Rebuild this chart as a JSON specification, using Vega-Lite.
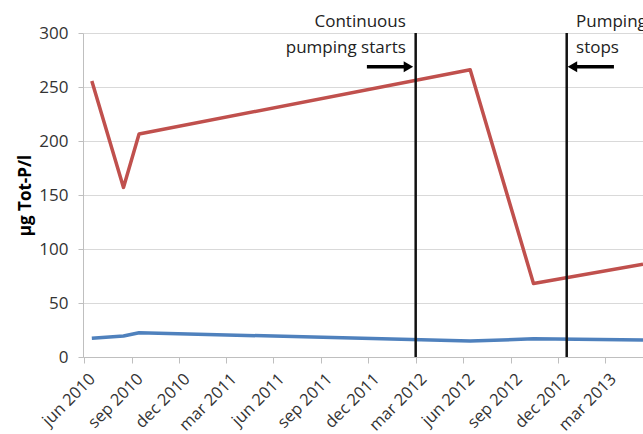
{
  "$schema": "https://vega.github.io/schema/vega-lite/v6.json",
  "width": 560,
  "height": 324,
  "autosize": {"type": "none"},
  "padding": {"left": 83, "top": 33, "right": 0, "bottom": 77},
  "background": "white",
  "config": {"view": {"stroke": null}, "font": "Open Sans"},
  "datasets": {
    "series": [
      {"date": "2010-06-16", "value": 255.5, "series": "Series 1"},
      {"date": "2010-08-16", "value": 157, "series": "Series 1"},
      {"date": "2010-09-15", "value": 206.5, "series": "Series 1"},
      {"date": "2012-06-14", "value": 266, "series": "Series 1"},
      {"date": "2012-10-14", "value": 68, "series": "Series 1"},
      {"date": "2013-05-13", "value": 86, "series": "Series 1"},
      {"date": "2010-06-16", "value": 17.3, "series": "Series 2"},
      {"date": "2010-08-16", "value": 19.4, "series": "Series 2"},
      {"date": "2010-09-15", "value": 22.5, "series": "Series 2"},
      {"date": "2012-06-14", "value": 14.8, "series": "Series 2"},
      {"date": "2012-10-14", "value": 16.8, "series": "Series 2"},
      {"date": "2013-05-13", "value": 15.7, "series": "Series 2"}
    ],
    "events": [
      {"date": "2012-03-01", "event": "Continuous pumping starts"},
      {"date": "2012-12-17", "event": "Pumping stops"}
    ],
    "arrows": [
      {"date": "2011-11-28", "end": "2012-02-12", "value": 268.8, "dir": "right"},
      {"date": "2013-01-01", "end": "2013-03-18", "value": 268.8, "dir": "left"}
    ],
    "heads": [
      {"date": "2012-02-16", "value": 268.8, "dir": "right"},
      {"date": "2012-12-28", "value": 268.8, "dir": "left"}
    ],
    "labels": [
      {"date": "2012-02-11", "value": 305.8, "text": "Continuous", "side": "before"},
      {"date": "2012-02-11", "value": 281.8, "text": "pumping starts", "side": "before"},
      {"date": "2013-01-04", "value": 305.8, "text": "Pumping", "side": "after"},
      {"date": "2013-01-04", "value": 281.8, "text": "stops", "side": "after"}
    ]
  },
  "layer": [
    {
      "data": {"name": "series"},
      "mark": {"type": "line", "strokeWidth": 3.5, "clip": true, "strokeJoin": "round"},
      "encoding": {
        "x": {
          "field": "date",
          "type": "temporal",
          "title": null,
          "scale": {
            "type": "utc",
            "domain": [
              {"year": 2010, "month": 5, "date": 30, "utc": true},
              {"year": 2013, "month": 5, "date": 13, "utc": true}
            ]
          },
          "axis": {
            "title": null,
            "values": [
              {"year": 2010, "month": 6, "date": 1, "utc": true},
              {"year": 2010, "month": 9, "date": 1, "utc": true},
              {"year": 2010, "month": 12, "date": 1, "utc": true},
              {"year": 2011, "month": 3, "date": 1, "utc": true},
              {"year": 2011, "month": 6, "date": 1, "utc": true},
              {"year": 2011, "month": 9, "date": 1, "utc": true},
              {"year": 2011, "month": 12, "date": 1, "utc": true},
              {"year": 2012, "month": 3, "date": 1, "utc": true},
              {"year": 2012, "month": 6, "date": 1, "utc": true},
              {"year": 2012, "month": 9, "date": 1, "utc": true},
              {"year": 2012, "month": 12, "date": 1, "utc": true},
              {"year": 2013, "month": 3, "date": 1, "utc": true}
            ],
            "labelExpr": "lower(utcFormat(datum.value, '%b %Y'))",
            "labelAngle": -45,
            "labelAlign": "right",
            "labelBaseline": "middle",
            "labelOffset": 8,
            "labelPadding": 13,
            "labelFontSize": 16.5,
            "labelColor": "#333333",
            "labelOverlap": false,
            "labelBound": false,
            "labelFlush": false,
            "tickSize": 6,
            "tickColor": "#bfbfbf",
            "domainColor": "#bfbfbf",
            "grid": false
          }
        },
        "y": {
          "field": "value",
          "type": "quantitative",
          "title": "µg Tot-P/l",
          "scale": {"domain": [0, 300], "nice": false, "zero": true},
          "axis": {
            "values": [0, 50, 100, 150, 200, 250, 300],
            "grid": true,
            "gridColor": "#d9d9d9",
            "domainColor": "#bfbfbf",
            "tickColor": "#bfbfbf",
            "tickSize": 5,
            "labelFontSize": 17,
            "labelPadding": 10,
            "labelColor": "#333333",
            "title": "µg Tot-P/l",
            "titleFontSize": 17,
            "titleFontWeight": "bold",
            "titleColor": "#000000",
            "titleX": -58,
            "titleY": 162,
            "titleAlign": "center",
            "titleBaseline": "middle",
            "titleAngle": -90
          }
        },
        "color": {
          "field": "series",
          "type": "nominal",
          "scale": {"domain": ["Series 1", "Series 2"], "range": ["#C0504D", "#4F81BD"]},
          "legend": null
        }
      }
    },
    {
      "data": {"name": "events"},
      "mark": {"type": "rule", "color": "#111111", "strokeWidth": 2.5},
      "encoding": {
        "x": {"field": "date", "type": "temporal", "title": null}
      }
    },
    {
      "data": {"name": "arrows"},
      "mark": {"type": "rule", "color": "#000000", "strokeWidth": 3.5},
      "encoding": {
        "x": {"field": "date", "type": "temporal", "title": null},
        "x2": {"field": "end"},
        "y": {"field": "value", "type": "quantitative", "title": "µg Tot-P/l"}
      }
    },
    {
      "data": {"name": "heads"},
      "transform": [{"filter": "datum.dir == 'right'"}],
      "mark": {"type": "point", "shape": "triangle-right", "filled": true, "color": "#000000", "size": 120, "opacity": 1},
      "encoding": {
        "x": {"field": "date", "type": "temporal", "title": null},
        "y": {"field": "value", "type": "quantitative", "title": "µg Tot-P/l"}
      }
    },
    {
      "data": {"name": "heads"},
      "transform": [{"filter": "datum.dir == 'left'"}],
      "mark": {"type": "point", "shape": "triangle-left", "filled": true, "color": "#000000", "size": 120, "opacity": 1},
      "encoding": {
        "x": {"field": "date", "type": "temporal", "title": null},
        "y": {"field": "value", "type": "quantitative", "title": "µg Tot-P/l"}
      }
    },
    {
      "data": {"name": "labels"},
      "transform": [{"filter": "datum.side == 'before'"}],
      "mark": {"type": "text", "align": "right", "baseline": "alphabetic", "fontSize": 17, "color": "#222222"},
      "encoding": {
        "x": {"field": "date", "type": "temporal", "title": null},
        "y": {"field": "value", "type": "quantitative", "title": "µg Tot-P/l"},
        "text": {"field": "text"}
      }
    },
    {
      "data": {"name": "labels"},
      "transform": [{"filter": "datum.side == 'after'"}],
      "mark": {"type": "text", "align": "left", "baseline": "alphabetic", "fontSize": 17, "color": "#222222"},
      "encoding": {
        "x": {"field": "date", "type": "temporal", "title": null},
        "y": {"field": "value", "type": "quantitative", "title": "µg Tot-P/l"},
        "text": {"field": "text"}
      }
    }
  ]
}
